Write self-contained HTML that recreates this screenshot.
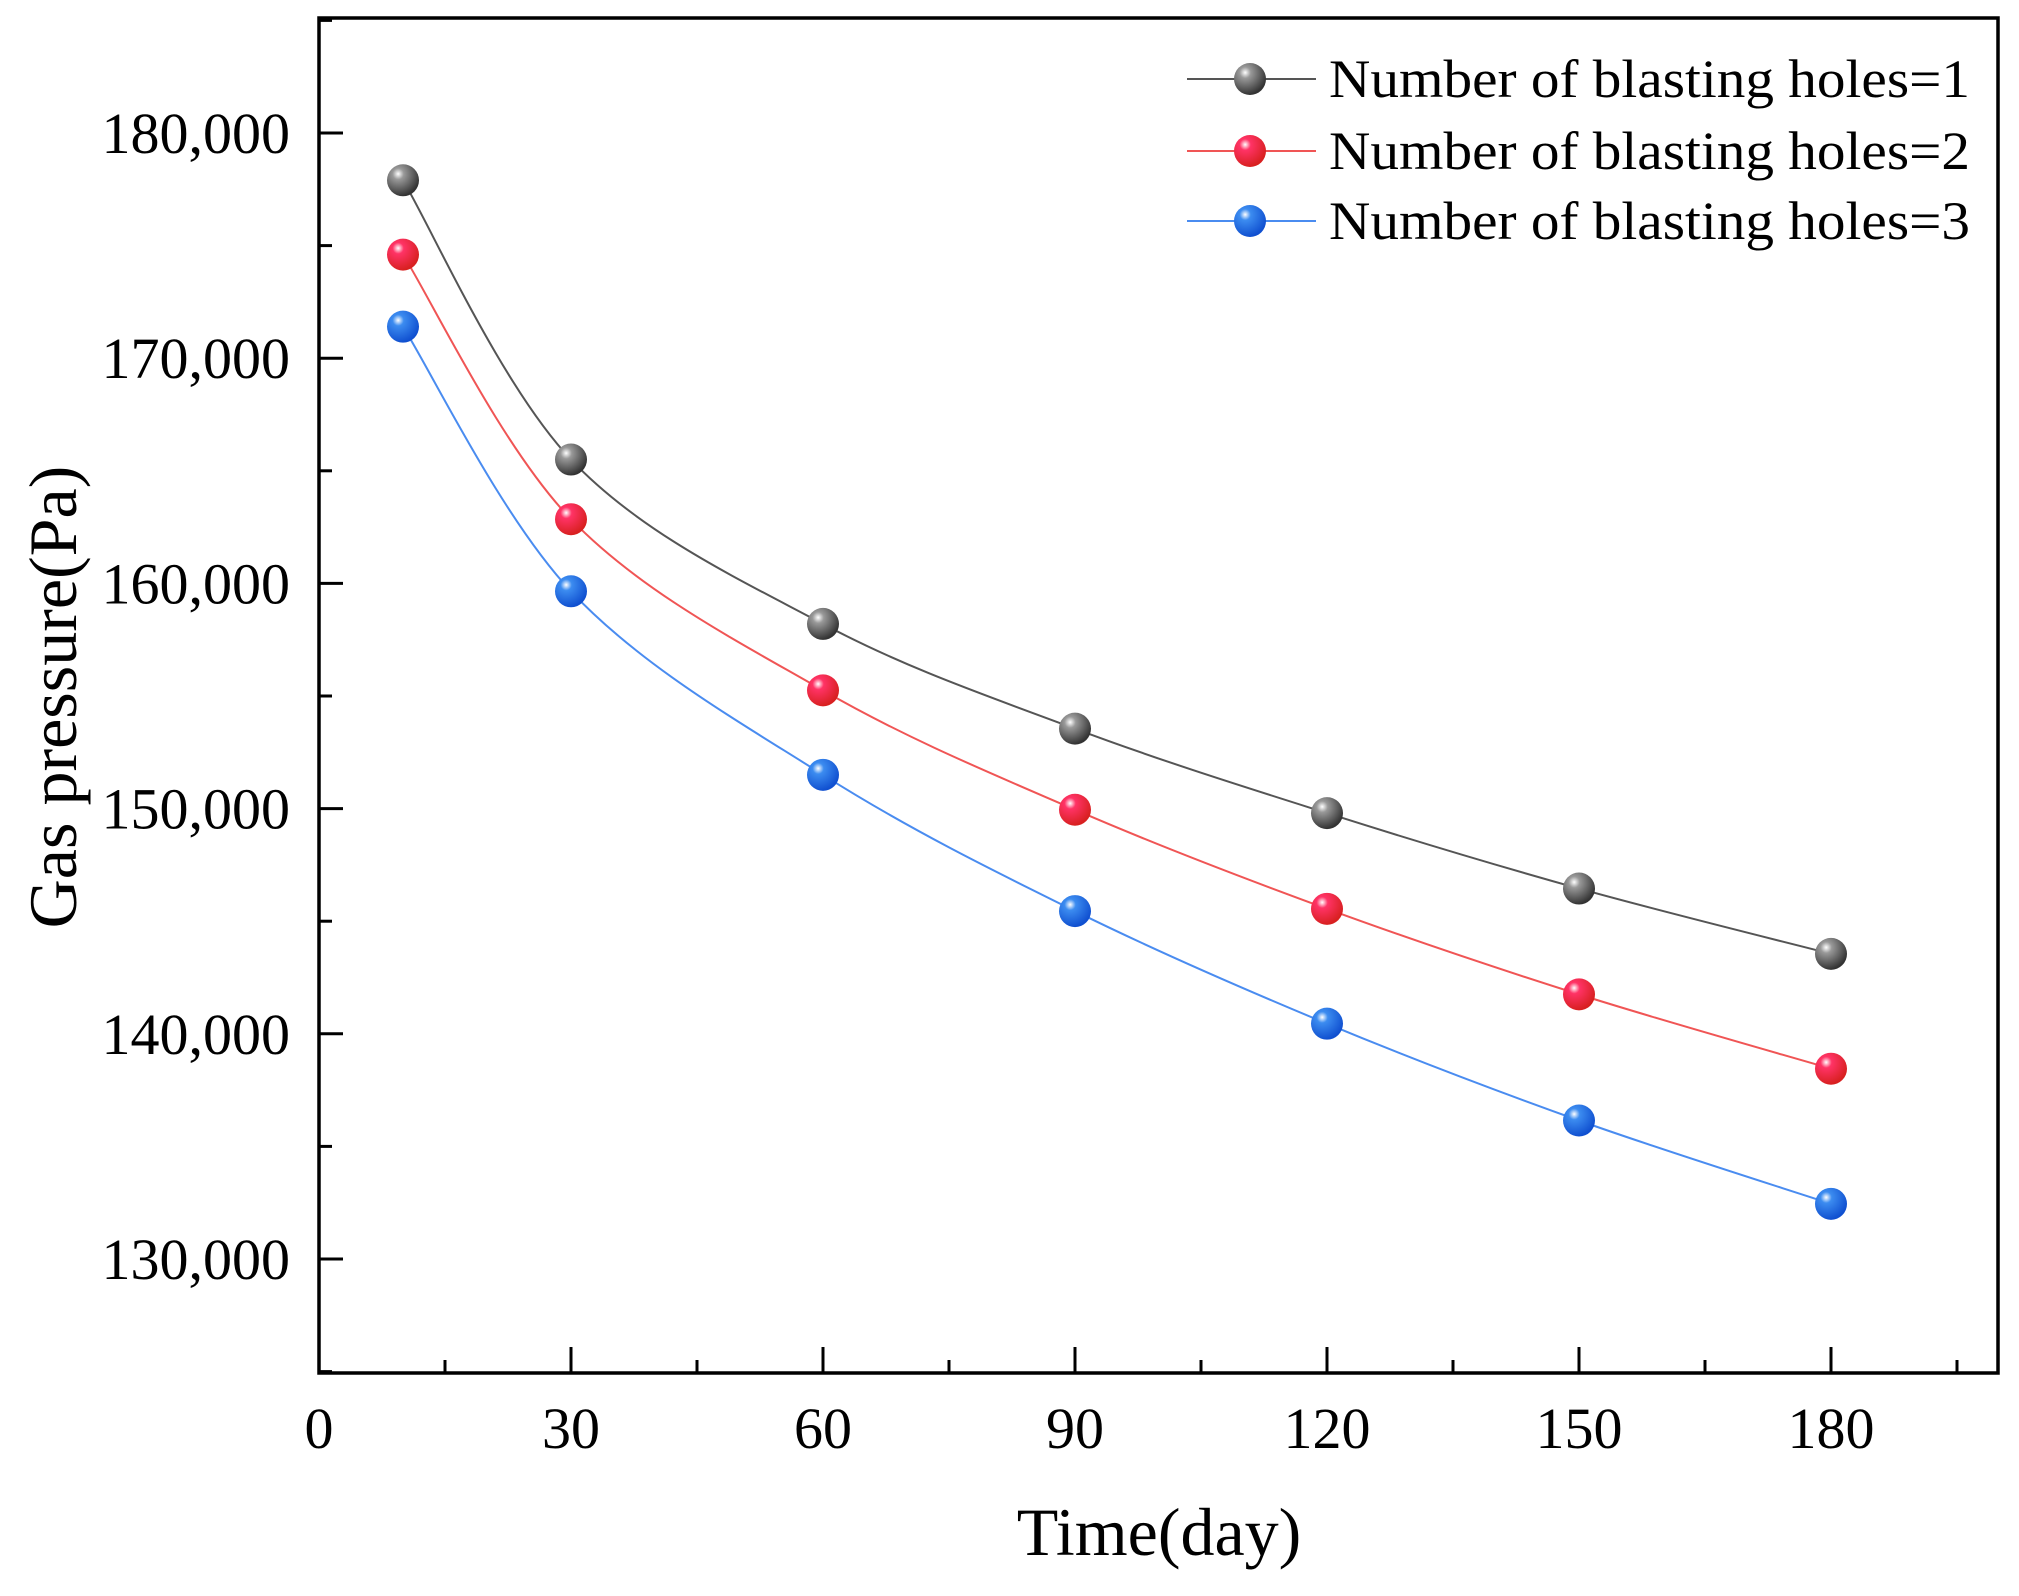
<!DOCTYPE html>
<html><head><meta charset="utf-8"><style>html,body{margin:0;padding:0;background:#fff}svg{display:block}</style></head>
<body>
<svg id="chart" width="2019" height="1596" viewBox="0 0 2019 1596" xmlns="http://www.w3.org/2000/svg" font-family="'Liberation Serif', serif">
<defs>
<radialGradient id="gk" cx="0.35" cy="0.3" r="0.7"><stop offset="0" stop-color="#fff"/><stop offset="0.25" stop-color="#999"/><stop offset="1" stop-color="#333"/></radialGradient>
<radialGradient id="gr" cx="0.35" cy="0.3" r="0.7"><stop offset="0" stop-color="#fff"/><stop offset="0.25" stop-color="#f36"/><stop offset="1" stop-color="#d82020"/></radialGradient>
<radialGradient id="gb" cx="0.35" cy="0.3" r="0.7"><stop offset="0" stop-color="#fff"/><stop offset="0.25" stop-color="#3c8cf0"/><stop offset="1" stop-color="#1050d0"/></radialGradient>
</defs>
<g id="plot"></g>
</svg>
<script>
const days = [10, 30, 60, 90, 120, 150, 180];
const holes1 = [177900, 165500, 158200, 153550, 149800, 146450, 143550];
const holes2 = [174600, 162850, 155250, 149950, 145550, 141750, 138450];
const holes3 = [171400, 159650, 151500, 145450, 140450, 136150, 132450];
const seriesNames = ["Number of blasting holes=1", "Number of blasting holes=2", "Number of blasting holes=3"];
const xTicks = [0, 30, 60, 90, 120, 150, 180];
const yTicks = [130000, 140000, 150000, 160000, 170000, 180000];

const L = 319, R = 1998, T = 18, B = 1373;
const xs = v => 319 + v * (1831 - 319) / 180;
const ys = v => 133 + (180000 - v) * (1259 - 133) / 50000;
const NS = "http://www.w3.org/2000/svg";
const g = document.getElementById('plot');
function mk(tag, attrs, parent) {
  const e = document.createElementNS(NS, tag);
  for (const k in attrs) e.setAttribute(k, attrs[k]);
  (parent || g).appendChild(e);
  return e;
}
let fr = mk('rect', {x: L, y: T, width: R - L, height: B - T, fill: 'none', stroke: '#000', 'stroke-width': 3.5});


for (let v = 125000; v <= 185000; v += 5000) {
  const y = ys(v);
  if (y < T || y > B) continue;
  const major = v % 10000 === 0;
  const t = mk('line', {x1: L, x2: L + (major ? 24 : 13), y1: y, y2: y, stroke: '#000', 'stroke-width': 3});
  
  
}
yTicks.forEach(v => {
  const t = mk('text', {x: 290, y: ys(v) + 20, 'text-anchor': 'end', 'font-size': 58});
  t.textContent = v.toLocaleString('en-US');
  
  
});
for (let v = 15; v <= 195; v += 15) {
  const x = xs(v);
  if (x > R) continue;
  const major = v % 30 === 0;
  const t = mk('line', {x1: x, x2: x, y1: B, y2: B - (major ? 26 : 13), stroke: '#000', 'stroke-width': 3});
  
  
}
xTicks.forEach(v => {
  const t = mk('text', {x: xs(v), y: 1448, 'text-anchor': 'middle', 'font-size': 58});
  t.textContent = v;
  
  
});
let xt = mk('text', {x: 1159, y: 1555, 'text-anchor': 'middle', 'font-size': 68});
xt.textContent = 'Time(day)';


let yt = mk('text', {x: 0, y: 0, 'text-anchor': 'middle', 'font-size': 68, transform: 'translate(76,697) rotate(-90)'});
yt.textContent = 'Gas pressure(Pa)';



function pathFor(vals) {
  const p = days.map((d, i) => [xs(d), ys(vals[i])]);
  let s = `M${p[0][0]},${p[0][1]}`;
  for (let i = 0; i < p.length - 1; i++) {
    const p0 = p[Math.max(0, i - 1)], p1 = p[i], p2 = p[i + 1], p3 = p[Math.min(p.length - 1, i + 2)];
    const c1 = [p1[0] + (p2[0] - p0[0]) / 6, p1[1] + (p2[1] - p0[1]) / 6];
    const c2 = [p2[0] - (p3[0] - p1[0]) / 6, p2[1] - (p3[1] - p1[1]) / 6];
    s += ` C${c1[0]},${c1[1]} ${c2[0]},${c2[1]} ${p2[0]},${p2[1]}`;
  }
  return s;
}
const series = [holes1, holes2, holes3];
const colors = ['#555', '#f05555', '#4a8cf0'];
const grads = ['url(#gk)', 'url(#gr)', 'url(#gb)'];
const legY = [79, 151, 221];
series.forEach((vals, si) => {
  const line = mk('path', {d: pathFor(vals), fill: 'none', stroke: colors[si], 'stroke-width': 2});
  
  
  vals.forEach((v, i) => {
    const c = mk('circle', {cx: xs(days[i]), cy: ys(v), r: 16, fill: grads[si]});
    
    
  });
  const ll = mk('line', {x1: 1187, x2: 1316, y1: legY[si], y2: legY[si], stroke: colors[si], 'stroke-width': 2});
  
  
  const lm = mk('circle', {cx: 1250, cy: legY[si], r: 16, fill: grads[si]});
  
  
  const lt = mk('text', {x: 1329, y: legY[si] + 18, 'font-size': 54, textLength: 641, lengthAdjust: 'spacingAndGlyphs'});
  lt.textContent = seriesNames[si];
  
  
});
</script>
</body></html>
